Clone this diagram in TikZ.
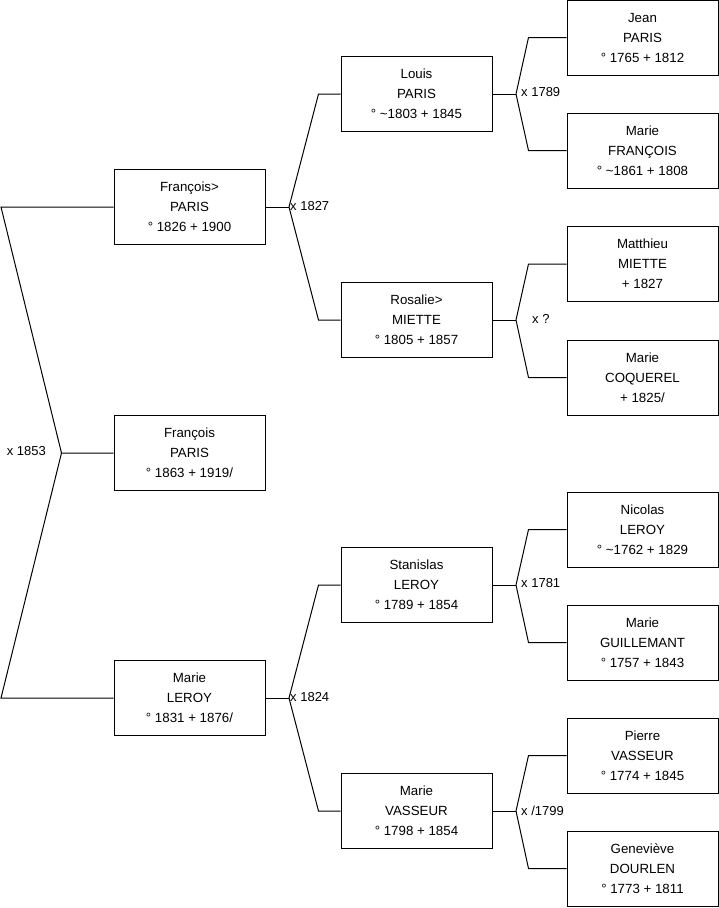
\documentclass[tikz,border=0pt]{standalone}
\usepackage{fontspec}
\setmainfont{Liberation Sans}
\usetikzlibrary{calc}
\tikzset{
  person/.style={draw=black, line width=1pt, minimum width=151pt, minimum height=75pt, inner sep=0pt, align=center, font=\fontsize{13.3}{20}\selectfont},
  link/.style={draw=black, line width=1pt},
  marr/.style={anchor=west, inner sep=0pt, font=\fontsize{13}{16}\selectfont}
}
\begin{document}
\begin{tikzpicture}[x=1pt,y=-1pt]
\useasboundingbox (0,0) rectangle (719,908);
% column 1
\node[person] (a1) at (189.5,207) {François>\\PARIS\\° 1826 + 1900};
\node[person] (a0) at (189.5,453) {François\\PARIS\\° 1863 + 1919/};
\node[person] (a2) at (189.5,698) {Marie\\LEROY\\° 1831 + 1876/};
% column 2
\node[person] (b1) at (416.5,94) {Louis\\PARIS\\° \textasciitilde1803 + 1845};
\node[person] (b2) at (416.5,320) {Rosalie>\\MIETTE\\° 1805 + 1857};
\node[person] (b3) at (416.5,585) {Stanislas\\LEROY\\° 1789 + 1854};
\node[person] (b4) at (416.5,811) {Marie\\VASSEUR\\° 1798 + 1854};
% column 3
\node[person] (c1) at (642.5,37.5) {Jean\\PARIS\\° 1765 + 1812};
\node[person] (c2) at (642.5,150.5) {Marie\\FRANÇOIS\\° \textasciitilde1861 + 1808};
\node[person] (c3) at (642.5,264) {Matthieu\\MIETTE\\+ 1827};
\node[person] (c4) at (642.5,377.5) {Marie\\COQUEREL\\+ 1825/};
\node[person] (c5) at (642.5,529.5) {Nicolas\\LEROY\\° \textasciitilde1762 + 1829};
\node[person] (c6) at (642.5,642.5) {Marie\\GUILLEMANT\\° 1757 + 1843};
\node[person] (c7) at (642.5,755.5) {Pierre\\VASSEUR\\° 1774 + 1845};
\node[person] (c8) at (642.5,868.5) {Geneviève\\DOURLEN\\° 1773 + 1811};
% root connectors
\coordinate (r0) at ($(a0.west)+(-52,0)$);
\coordinate (rt) at (1,207);
\coordinate (rb) at (1,698);
\draw[link] (a1.west) -- (rt) -- (r0) -- (a0.west);
\draw[link] (r0) -- (rb) -- (a2.west);
\node[marr, anchor=east] (m0) at (46,451) {x 1853};
% pair connector: parent, upper child, lower child, junction name, branch length
\newcommand{\famlink}[5]{%
  \coordinate (#4) at ($(#1.east)+(23.5,0)$);
  \draw[link] (#1.east) -- (#4);
  \draw[link] (#4) -- ($(#2.west)+(-#5,0)$) -- (#2.west);
  \draw[link] (#4) -- ($(#3.west)+(-#5,0)$) -- (#3.west);
}
\famlink{a1}{b1}{b2}{j1}{22}
\famlink{a2}{b3}{b4}{j2}{22}
\famlink{b1}{c1}{c2}{j3}{38}
\famlink{b2}{c3}{c4}{j4}{38}
\famlink{b3}{c5}{c6}{j5}{38}
\famlink{b4}{c7}{c8}{j6}{38}
\node[marr] (m1) at ($(j1)+(1,-1)$) {x 1827};
\node[marr] (m2) at ($(j2)+(1,-1)$) {x 1824};
\node[marr] (m3) at ($(j3)+(5,-2)$) {x 1789};
\node[marr] (m4) at ($(j4)+(16,-1)$) {x ?};
\node[marr] (m5) at ($(j5)+(5,-2)$) {x 1781};
\node[marr] (m6) at ($(j6)+(5,0)$) {x /1799};
\end{tikzpicture}
\end{document}
